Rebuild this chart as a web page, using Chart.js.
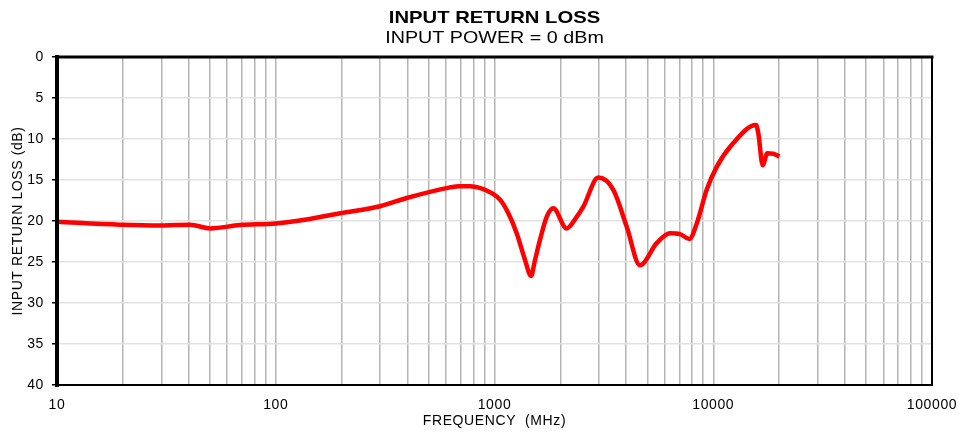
<!DOCTYPE html>
<html>
<head>
<meta charset="utf-8">
<script src="https://cdn.jsdelivr.net/npm/chart.js@4"></script>
<style>
  html, body { margin: 0; padding: 0; background: #fff; }
  #wrap { width: 959px; height: 435px; }
</style>
</head>
<body>
<div id="wrap"><canvas id="chart" width="959" height="435"></canvas></div>
<script>
// frequency (MHz) and return loss (dB)
const freqs = [10, 19.4, 29.6, 40.5, 50, 68.6, 100, 143, 196.7, 300, 396.8, 626, 690, 773, 889, 971,
  1060, 1157, 1263, 1379, 1469, 1532, 1614, 1732, 1857, 2138, 2375, 2547, 2982, 3493, 4022, 4626,
  5513, 6343, 7047, 7775, 8404, 9333, 10370, 12350, 15680, 16070, 16830, 17660, 18820, 20050];
const returnLoss = [20.1, 20.45, 20.55, 20.45, 20.9, 20.5, 20.3, 19.75, 19.06, 18.2, 17.2, 15.9, 15.75, 15.75, 16.1, 16.6,
  17.4, 19.06, 21.5, 24.75, 26.7, 24.75, 22.3, 19.5, 18.45, 20.9, 19.5, 18.25, 14.7, 16.2, 20.7, 25.4,
  22.7, 21.5, 21.6, 22.2, 20.3, 16.2, 13.4, 10.5, 8.3, 9.3, 13.2, 11.75, 11.8, 12.15];

const yTicks = [0, 5, 10, 15, 20, 25, 30, 35, 40];
const decades = [10, 100, 1000, 10000, 100000];

const titleText = "INPUT RETURN LOSS";
const subtitleText = "INPUT POWER = 0 dBm";
const font = "'Liberation Sans', Arial, sans-serif";

const points = freqs.map((f, i) => ({ x: f, y: returnLoss[i] }));

// the reference type is a little wider than Arial
const spacing = {
  id: "spacing",
  beforeLayout(chart) { chart.ctx.letterSpacing = "0.6px"; },
  beforeDraw(chart) { chart.ctx.letterSpacing = "0.6px"; }
};

const frameAndTitles = {
  id: "frameAndTitles",
  afterDraw(chart) {
    const { ctx, chartArea: a } = chart;
    ctx.save();
    ctx.strokeStyle = "#000";
    ctx.lineCap = "square";
    const line = (w, x1, y1, x2, y2) => {
      ctx.lineWidth = w;
      ctx.beginPath(); ctx.moveTo(x1, y1); ctx.lineTo(x2, y2); ctx.stroke();
    };
    line(3, a.left, a.top, a.right, a.top);
    line(2, a.right, a.top, a.right, a.bottom);
    line(2, a.left, a.bottom, a.right, a.bottom);
    line(4, a.left, a.top, a.left, a.bottom);

    ctx.fillStyle = "#000";
    ctx.textAlign = "center";
    ctx.textBaseline = "middle";
    ctx.letterSpacing = "0px";
    const cx = (a.left + a.right) / 2;
    const stretched = (text, f, sx, y) => {
      ctx.save();
      ctx.translate(cx, y);
      ctx.scale(sx, 1);
      ctx.font = f;
      ctx.fillText(text, 0, 0);
      ctx.restore();
    };
    stretched(titleText, "bold 17px " + font, 1.19, 18);
    stretched(subtitleText, "17px " + font, 1.16, 38);
    ctx.restore();
  }
};

new Chart(document.getElementById("chart"), {
  type: "line",
  data: {
    datasets: [{
      data: points,
      borderColor: "#ff0000",
      borderWidth: 4.5,
      pointRadius: 0,
      cubicInterpolationMode: "monotone",
      fill: false
    }]
  },
  options: {
    responsive: false,
    animation: false,
    layout: { padding: { top: 57, right: 27, left: 0, bottom: 0 } },
    plugins: { legend: { display: false }, tooltip: { enabled: false } },
    scales: {
      x: {
        type: "logarithmic",
        min: 10,
        max: 100000,
        afterBuildTicks(scale) {
          const t = [];
          decades.forEach(d => {
            if (d === 100000) { t.push({ value: d }); return; }
            for (let k = 1; k <= 9; k++) t.push({ value: d * k });
          });
          scale.ticks = t;
        },
        afterFit(scale) {
          scale.height = 50;
          scale.paddingLeft = 0;
          scale.paddingRight = 0;
        },
        ticks: {
          autoSkip: false,
          maxRotation: 0,
          color: "#000",
          font: { family: font, size: 14 },
          padding: 12,
          callback: v => (decades.includes(v) ? String(v) : "")
        },
        grid: { color: "#b4b4b4", lineWidth: 1.5, drawTicks: false },
        border: { display: false },
        title: {
          display: true,
          text: "FREQUENCY  (MHz)",
          color: "#000",
          font: { family: font, size: 14 },
          padding: { top: 2, bottom: 5 }
        }
      },
      y: {
        reverse: true,
        min: 0,
        max: 40,
        afterBuildTicks(scale) { scale.ticks = yTicks.map(v => ({ value: v })); },
        afterFit(scale) {
          scale.width = 57;
          scale.paddingTop = 0;
          scale.paddingBottom = 0;
        },
        ticks: {
          color: "#000",
          font: { family: font, size: 14 },
          padding: 8
        },
        grid: { color: "#e2e2e2", lineWidth: 1.5, tickColor: "#000", tickLength: 5 },
        border: { display: false },
        title: {
          display: true,
          text: "INPUT RETURN LOSS (dB)",
          color: "#000",
          font: { family: font, size: 14 },
          padding: { top: 10, bottom: 0 }
        }
      }
    }
  },
  plugins: [spacing, frameAndTitles]
});
</script>
</body>
</html>
